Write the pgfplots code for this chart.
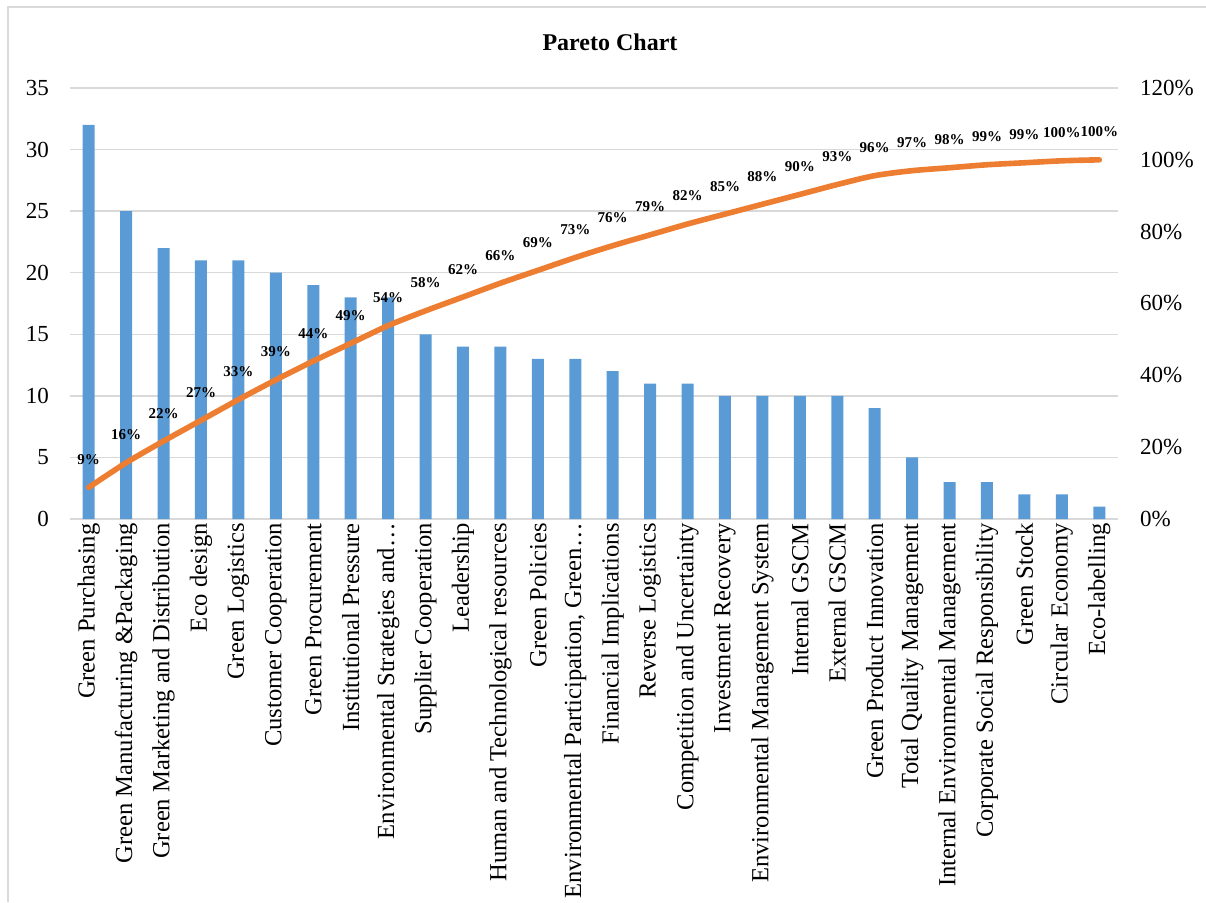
\documentclass[border=0pt]{standalone}
\usepackage{pgfplots}
\pgfplotsset{compat=1.18}
\usepackage{fontspec}
\setmainfont{Liberation Serif}
\definecolor{barblue}{HTML}{5B9BD5}
\definecolor{lineorange}{HTML}{ED7D31}
\definecolor{gridgray}{HTML}{D9D9D9}
\pgfplotsset{/pgf/number format/assume math mode=true}

\begin{document}
\begin{tikzpicture}
\path[use as bounding box] (0pt,0pt) rectangle (603pt,451pt);
\draw[gridgray, line width=0.8pt] (4pt,0pt) -- (4pt,447.5pt) -- (603pt,447.5pt);
\node[font=\fontsize{12}{14}\selectfont\bfseries] at (305pt,430pt) {Pareto Chart};

% counts
\begin{axis}[
  at={(35pt,191.5pt)}, anchor=south west,
  scale only axis, width=524pt, height=215.5pt,
  xmin=-0.5, xmax=27.5, ymin=0, ymax=35,
  ytick={0,5,...,35},
  xtick={0,...,27},
  xticklabels={Green Purchasing, Green Manufacturing \&Packaging, Green Marketing and Distribution, Eco design, Green Logistics, Customer Cooperation, Green Procurement, Institutional Pressure, Environmental Strategies and…, Supplier Cooperation, Leadership, Human and Technological resources, Green Policies, {Environmental Participation, Green…}, Financial Implications, Reverse Logistics, Competition and Uncertainty, Investment Recovery, Environmental Management System, Internal GSCM, External GSCM, Green Product Innovation, Total Quality Management, Internal Environmental Management, Corporate Social Responsibility, Green Stock, Circular Economy, Eco-labelling},
  x tick label style={font=\fontsize{12.3}{14}\selectfont, yshift=-1pt, rotate=90, anchor=east, inner sep=1pt},
  y tick label style={font=\fontsize{11.5}{13}\selectfont, xshift=-7pt},
  axis line style={draw=none},
  major tick length=0pt,
  ymajorgrids,
  grid style={gridgray, line width=0.75pt},
]
\addplot[ybar, bar width=6pt, fill=barblue, draw=none] coordinates {
  (0,32) (1,25) (2,22) (3,21) (4,21) (5,20) (6,19) (7,18) (8,18) (9,15)
  (10,14) (11,14) (12,13) (13,13) (14,12) (15,11) (16,11) (17,10) (18,10) (19,10)
  (20,10) (21,9) (22,5) (23,3) (24,3) (25,2) (26,2) (27,1)
};
\end{axis}

% cumulative percentage
\begin{axis}[
  at={(35pt,191.5pt)}, anchor=south west,
  scale only axis, width=524pt, height=215.5pt,
  xmin=-0.5, xmax=27.5, ymin=0, ymax=120,
  axis y line*=right,
  hide x axis,
  ytick={0,20,...,120},
  yticklabel={\pgfmathprintnumber{\tick}\%},
  y tick label style={font=\fontsize{11.5}{13}\selectfont, xshift=7.5pt},
  axis line style={draw=none},
  major tick length=0pt,
]
\addplot[lineorange, line width=2.8pt, smooth, line cap=round,
  point meta=y,
  nodes near coords={\pgfmathprintnumber[fixed,precision=0]{\pgfplotspointmeta}\%},
  every node near coord/.style={black, font=\fontsize{7.5}{9}\selectfont\bfseries, anchor=south, inner sep=0pt, yshift=10pt}]
coordinates {
  (0,8.79) (1,15.66) (2,21.70) (3,27.47) (4,33.24) (5,38.74) (6,43.96) (7,48.90) (8,53.85) (9,57.97)
  (10,61.81) (11,65.66) (12,69.23) (13,72.80) (14,76.10) (15,79.12) (16,82.14) (17,84.89) (18,87.64) (19,90.38)
  (20,93.13) (21,95.60) (22,96.98) (23,97.80) (24,98.63) (25,99.18) (26,99.73) (27,100.00)
};
\end{axis}
\end{tikzpicture}
\end{document}
